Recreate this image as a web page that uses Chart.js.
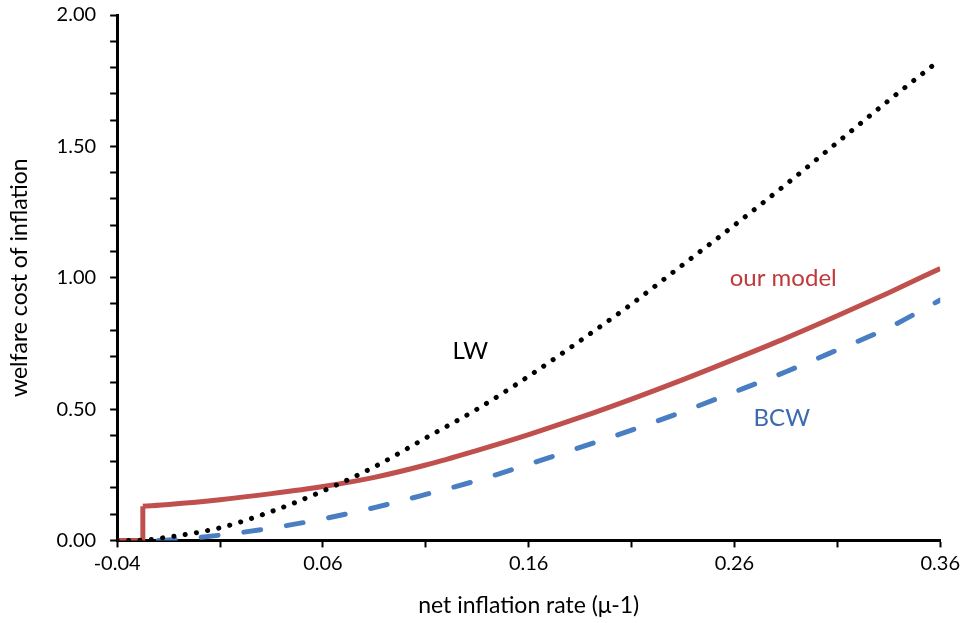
<!DOCTYPE html>
<html>
<head>
<meta charset="utf-8">
<script src="https://cdn.jsdelivr.net/npm/chart.js@4/dist/chart.umd.min.js"></script>
<style>
  html, body { margin: 0; padding: 0; background: #fff; }
  #wrap { width: 964px; height: 623px; }
</style>
</head>
<body>
<div id="wrap"><canvas id="welfare-cost"></canvas></div>
<script>
// tick values
var xTickValues = [-0.04, 0.01, 0.06, 0.11, 0.16, 0.21, 0.26, 0.31, 0.36];
var xLabelValues = [-0.04, 0.06, 0.16, 0.26, 0.36];
var yTickValues = [0, 0.1, 0.2, 0.3, 0.4, 0.5, 0.6, 0.7, 0.8, 0.9, 1.0, 1.1, 1.2, 1.3, 1.4, 1.5, 1.6, 1.7, 1.8, 1.9, 2.0];
var yLabelValues = [0, 0.5, 1.0, 1.5, 2.0];

// our model: the jump at the left, then the curve
var modelStepX = [-0.04, -0.0275, -0.0275];
var modelStepY = [0, 0, 0.13];
var modelX = [-0.0275, -0.015, 0.01, 0.035, 0.06, 0.085, 0.11, 0.135, 0.16, 0.185, 0.21, 0.235, 0.26, 0.285, 0.31, 0.335, 0.36];
var modelY = [0.13, 0.137, 0.155, 0.178, 0.205, 0.24, 0.287, 0.343, 0.403, 0.468, 0.538, 0.612, 0.69, 0.77, 0.855, 0.943, 1.035];

// LW
var lwX = [-0.04, -0.03, -0.015, 0.01, 0.035, 0.06, 0.085, 0.11, 0.135, 0.16, 0.185, 0.21, 0.235, 0.26, 0.285, 0.31, 0.335, 0.36];
var lwY = [0, 0, 0.013, 0.048, 0.11, 0.188, 0.28, 0.39, 0.5, 0.625, 0.76, 0.9, 1.05, 1.2, 1.355, 1.515, 1.675, 1.83];

// BCW
var bcwX = [-0.02, -0.015, 0.01, 0.035, 0.06, 0.085, 0.11, 0.135, 0.16, 0.185, 0.21, 0.235, 0.26, 0.285, 0.31, 0.335, 0.36];
var bcwY = [0, 0.002, 0.02, 0.047, 0.082, 0.125, 0.175, 0.228, 0.29, 0.354, 0.42, 0.49, 0.565, 0.642, 0.725, 0.81, 0.915];

// series labels written inside the plot
var seriesLabels = [
  {text: 'LW', x: 0.1316, y: 0.72, color: '#000000'},
  {text: 'our model', x: 0.2837, y: 0.996, color: '#C0393B'},
  {text: 'BCW', x: 0.283, y: 0.466, color: '#3C6AAE'}
];

function pairs(xs, ys) {
  return xs.map(function(x, i) { return {x: x, y: ys[i]}; });
}

function isIn(list, v) {
  return list.some(function(t) { return Math.abs(t - v) < 1e-6; });
}

var labelPlugin = {
  id: 'seriesLabels',
  afterDatasetsDraw: function(chart) {
    var ctx = chart.ctx;
    ctx.save();
    ctx.font = '24px Lato';
    ctx.textAlign = 'center';
    ctx.textBaseline = 'middle';
    seriesLabels.forEach(function(l) {
      ctx.fillStyle = l.color;
      ctx.fillText(l.text, chart.scales.x.getPixelForValue(l.x), chart.scales.y.getPixelForValue(l.y));
    });
    ctx.restore();
  }
};

var ctx = document.getElementById('welfare-cost').getContext('2d');
var myChart = new Chart(ctx, {
  type: 'line',
  data: {
    datasets: [
      {
        label: 'LW',
        data: pairs(lwX, lwY),
        borderColor: '#000000',
        borderWidth: 5,
        borderDash: [0.1, 11.3],
        borderCapStyle: 'round',
        cubicInterpolationMode: 'monotone',
        pointRadius: 0
      },
      {
        label: 'BCW',
        data: pairs(bcwX, bcwY),
        borderColor: '#4A7EC2',
        borderWidth: 5,
        borderDash: [17, 26],
        borderCapStyle: 'round',
        cubicInterpolationMode: 'monotone',
        pointRadius: 0
      },
      {
        label: 'our model step',
        data: pairs(modelStepX, modelStepY),
        borderColor: '#C0504D',
        borderWidth: 5,
        borderJoinStyle: 'miter',
        tension: 0,
        pointRadius: 0
      },
      {
        label: 'our model',
        data: pairs(modelX, modelY),
        borderColor: '#C0504D',
        borderWidth: 5,
        cubicInterpolationMode: 'monotone',
        pointRadius: 0
      }
    ]
  },
  options: {
    responsive: true,
    maintainAspectRatio: false,
    animation: false,
    layout: { padding: {left: 2, right: 2, top: 15, bottom: 2} },
    plugins: {
      legend: { display: false },
      tooltip: { enabled: false }
    },
    scales: {
      x: {
        type: 'linear',
        min: -0.04,
        max: 0.36,
        afterBuildTicks: function(scale) {
          scale.ticks = xTickValues.map(function(v) { return {value: v}; });
        },
        ticks: {
          autoSkip: false,
          maxRotation: 0,
          color: '#000',
          font: {family: 'Lato', size: 20},
          padding: 4,
          callback: function(v) { return isIn(xLabelValues, v) ? v.toFixed(2) : ''; }
        },
        grid: { drawOnChartArea: false, tickLength: 7, tickColor: '#000', tickWidth: 2 },
        border: { color: '#000', width: 3 },
        title: {
          display: true,
          text: 'net inflation rate (\u03bc-1)',
          color: '#000',
          font: {family: 'Lato', size: 23},
          padding: {top: 12, bottom: 2}
        }
      },
      y: {
        type: 'linear',
        min: 0,
        max: 2,
        afterBuildTicks: function(scale) {
          scale.ticks = yTickValues.map(function(v) { return {value: v}; });
        },
        afterFit: function(scale) {
          scale.paddingTop = 0;
        },
        ticks: {
          autoSkip: false,
          color: '#000',
          font: {family: 'Lato', size: 20},
          padding: 14,
          callback: function(v) { return isIn(yLabelValues, v) ? v.toFixed(2) : ''; }
        },
        grid: { drawOnChartArea: false, tickLength: 7, tickColor: '#000', tickWidth: 2 },
        border: { color: '#000', width: 3 },
        title: {
          display: true,
          text: 'welfare cost of inflation',
          color: '#000',
          font: {family: 'Lato', size: 23},
          padding: {top: 4, bottom: 9}
        }
      }
    }
  },
  plugins: [labelPlugin]
});
</script>
</body>
</html>
